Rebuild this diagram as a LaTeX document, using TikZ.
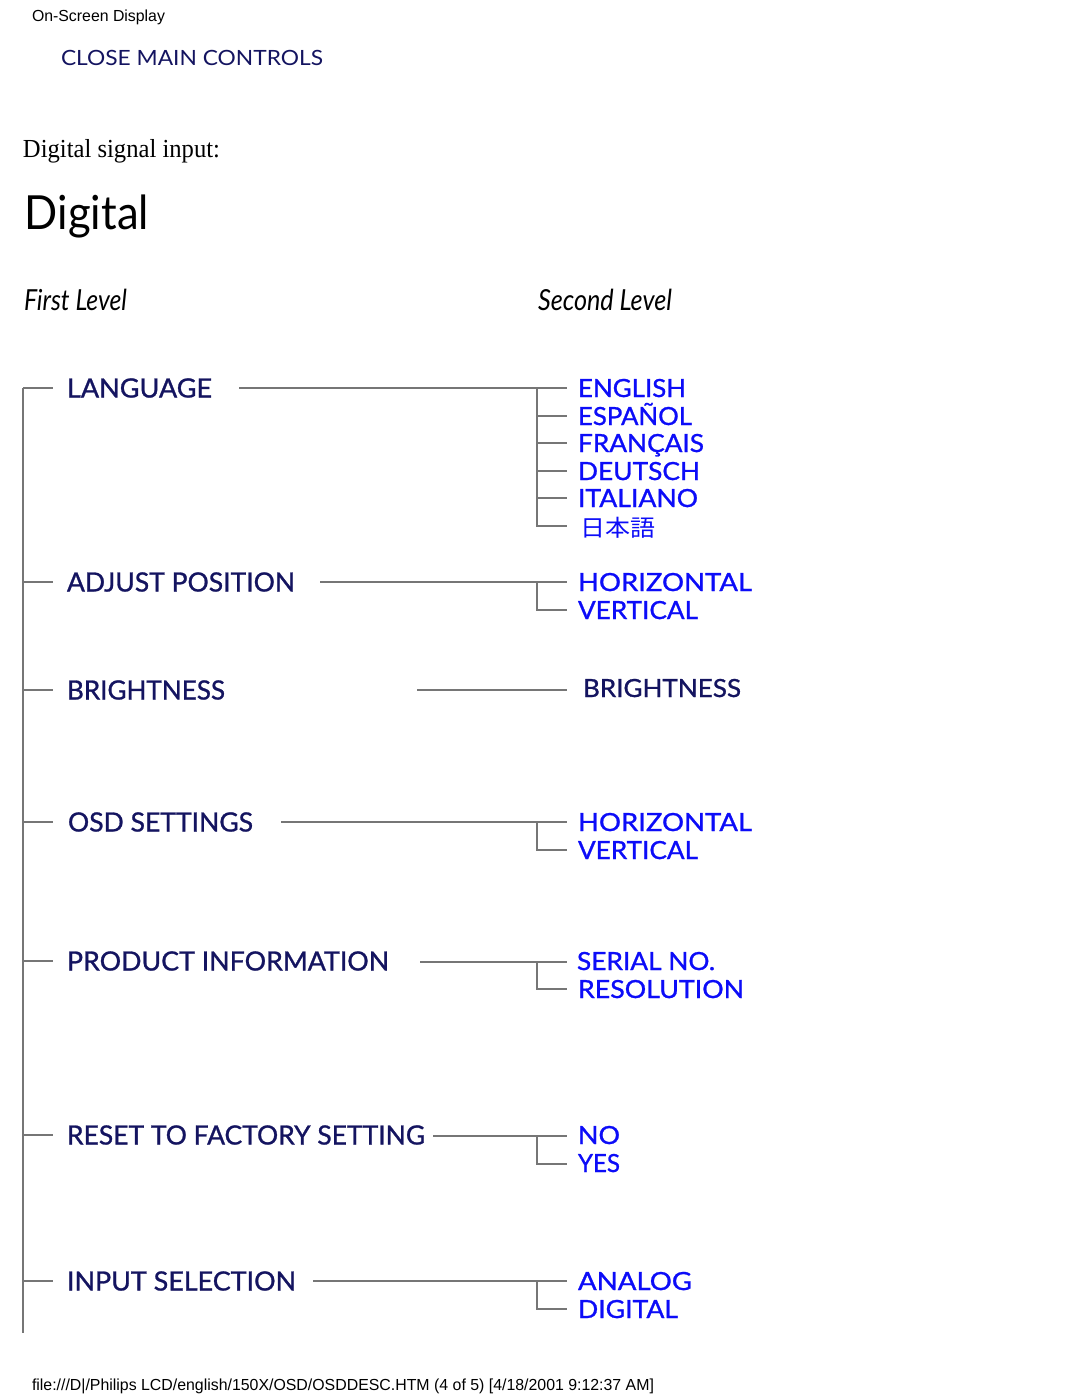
\documentclass[tikz,border=0pt]{standalone}
\usepackage{fontspec}
\usepackage{graphicx}
\setmainfont{Liberation Serif}
\newfontfamily\gill[FakeBold=1.0]{Lato}
\newfontfamily\gillplain{Lato}
\newfontfamily\arialf{Liberation Sans}
\newfontfamily\jpfont{Noto Sans CJK JP}
\definecolor{navy}{RGB}{20,20,96}
\definecolor{ablue}{RGB}{12,12,248}
\definecolor{lgray}{RGB}{118,118,118}
\newcommand\fw[2]{\resizebox{#1pt}{\height}{#2}}
\tikzset{
  txt/.style={anchor=base west, inner sep=0pt, outer sep=0pt},
  small/.style={txt, font=\arialf\fontsize{16}{16}\selectfont, text=black},
  lvlone/.style={txt, font=\gill\fontsize{26.5}{26.5}\selectfont, text=navy},
  lvltwo/.style={txt, font=\gill\fontsize{25}{25}\selectfont, text=ablue},
  conn/.style={draw=lgray, line width=1.3pt},
}
\begin{document}
\begin{tikzpicture}[x=1pt,y=-1pt]
\useasboundingbox[fill=white] (0,0) rectangle (1080,1397);

% header
\node[small] (osd) at (32,21.5) {\fw{133}{On-Screen Display}};
\node[txt, font=\gillplain\fontsize{21}{21}\selectfont, text=navy] (close) at (61,66) {\fw{262}{CLOSE MAIN CONTROLS}};
\node[txt, font=\fontsize{26}{26}\selectfont] (dsi) at (23,157) {\fw{197}{Digital signal input:}};
\node[txt, font=\gillplain\fontsize{47}{47}\selectfont] (dig) at (25,229) {\fw{124}{Digital}};
\node[txt, font=\gillplain\itshape\fontsize{29}{29}\selectfont] (first) at (24,310) {\fw{103}{First Level}};
\node[txt, font=\gillplain\itshape\fontsize{29}{29}\selectfont] (second) at (538,310) {\fw{134}{Second Level}};

% first level labels
\node[lvlone] (lang) at (67,397.5) {\fw{145}{LANGUAGE}};
\node[lvlone] (adj)  at (67,591.5) {\fw{228}{ADJUST POSITION}};
\node[lvlone] (bri)  at (67,699.5) {\fw{158}{BRIGHTNESS}};
\node[lvlone] (osds) at (68,831.5) {\fw{185}{OSD SETTINGS}};
\node[lvlone] (prod) at (67,970.5) {\fw{322}{PRODUCT INFORMATION}};
\node[lvlone] (rst)  at (67,1144.5) {\fw{358}{RESET TO FACTORY SETTING}};
\node[lvlone] (inp)  at (67,1290.5) {\fw{229}{INPUT SELECTION}};

% trunk and ticks
\coordinate (trtop) at (23,388);
\coordinate (trbot) at (23,1333);
\draw[conn] (trtop) -- (trbot);
\foreach \yy [count=\i] in {388,582,690,822,961,1135,1281}{
  \coordinate (tk\i) at (23,\yy);
  \coordinate (tke\i) at (53,\yy);
  \draw[conn] (tk\i) -- (tke\i);
}

% second level labels
\node[lvltwo] (eng) at (578,397) {\fw{108}{ENGLISH}};
\node[lvltwo] (esp) at (578,425) {\fw{114}{ESPAÑOL}};
\node[lvltwo] (fra) at (578,452) {\fw{126}{FRANÇAIS}};
\node[lvltwo] (deu) at (578,480) {\fw{122}{DEUTSCH}};
\node[lvltwo] (ita) at (578,507) {\fw{120}{ITALIANO}};
\node[txt, font=\jpfont\fontsize{23}{23}\selectfont, text=ablue] (jpn) at (580,536) {\fw{75}{日本語}};

\node[lvltwo] (hor1) at (578,591) {\fw{174}{HORIZONTAL}};
\node[lvltwo] (ver1) at (578,619) {\fw{120}{VERTICAL}};

\node[lvltwo, text=navy] (bri2) at (583,697) {\fw{158}{BRIGHTNESS}};

\node[lvltwo] (hor2) at (578,831) {\fw{174}{HORIZONTAL}};
\node[lvltwo] (ver2) at (578,859) {\fw{120}{VERTICAL}};

\node[lvltwo] (ser) at (577,970) {\fw{138}{SERIAL NO.}};
\node[lvltwo] (res) at (578,998) {\fw{166}{RESOLUTION}};

\node[lvltwo] (no)  at (578,1144) {\fw{42}{NO}};
\node[lvltwo] (yes) at (578,1172) {\fw{42}{YES}};

\node[lvltwo] (ana) at (578,1290) {\fw{114}{ANALOG}};
\node[lvltwo] (dgl) at (578,1318) {\fw{100}{DIGITAL}};

% connectors: language
\coordinate (ls) at (239,388);
\coordinate (lj) at (537,388);
\draw[conn] (ls) -- (lj);
\foreach \yy [count=\i] in {388,416,443,471,498,526}{
  \coordinate (lt\i) at (567,\yy);
}
\draw[conn] (lj) |- (lt6);
\foreach \i in {1,...,5}{ \draw[conn] (lj |- lt\i) -- (lt\i); }

% adjust position
\coordinate (as) at (320,582); \coordinate (aj) at (537,582);
\coordinate (at1) at (567,582); \coordinate (at2) at (567,610);
\draw[conn] (as) -- (at1); \draw[conn] (aj) |- (at2);

% brightness
\coordinate (bs) at (417,690); \coordinate (be) at (567,690);
\draw[conn] (bs) -- (be);

% osd settings
\coordinate (os) at (281,822); \coordinate (oj) at (537,822);
\coordinate (ot1) at (567,822); \coordinate (ot2) at (567,850);
\draw[conn] (os) -- (ot1); \draw[conn] (oj) |- (ot2);

% product information
\coordinate (ps) at (420,962); \coordinate (pj) at (537,962);
\coordinate (pt1) at (567,962); \coordinate (pt2) at (567,989);
\draw[conn] (ps) -- (pt1); \draw[conn] (pj) |- (pt2);

% reset
\coordinate (rs) at (433,1136); \coordinate (rj) at (537,1136);
\coordinate (rt1) at (567,1136); \coordinate (rt2) at (567,1164);
\draw[conn] (rs) -- (rt1); \draw[conn] (rj) |- (rt2);

% input selection
\coordinate (is) at (313,1281); \coordinate (ij) at (537,1281);
\coordinate (it1) at (567,1281); \coordinate (it2) at (567,1309);
\draw[conn] (is) -- (it1); \draw[conn] (ij) |- (it2);

% footer
\node[small] (foot) at (32,1390) {\fw{622}{file:///D|/Philips LCD/english/150X/OSD/OSDDESC.HTM (4 of 5) [4/18/2001 9:12:37 AM]}};
\end{tikzpicture}
\end{document}
